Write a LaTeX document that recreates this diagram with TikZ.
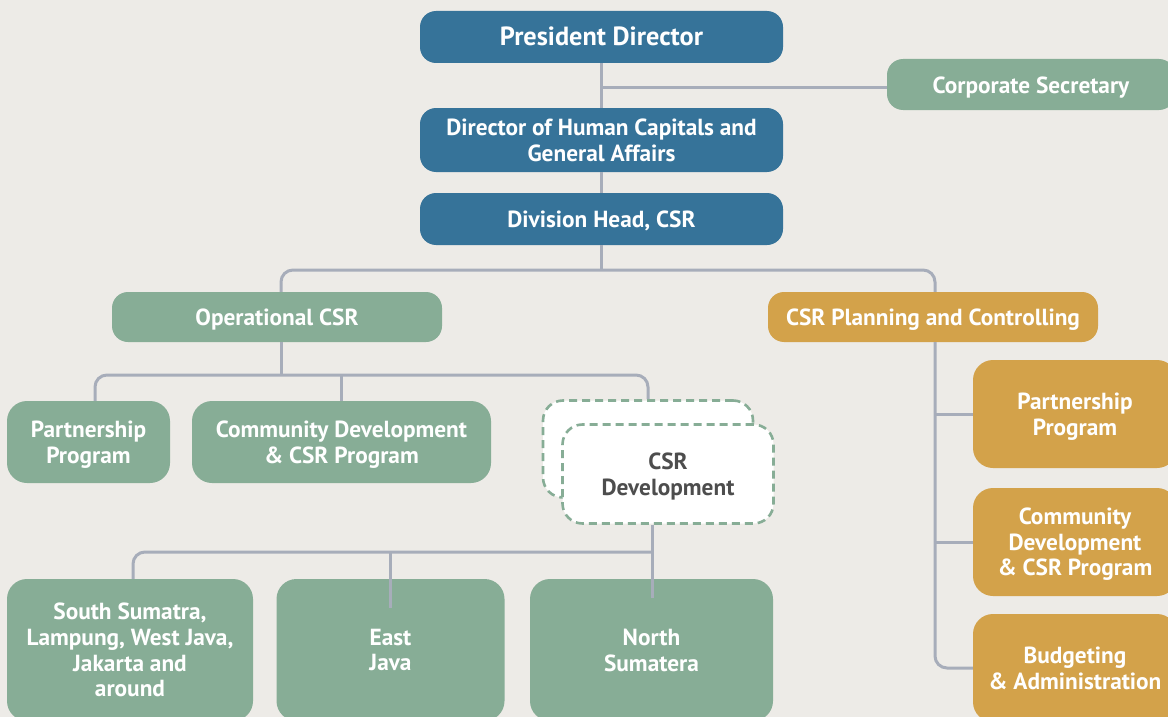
\documentclass[tikz,border=0pt]{standalone}
\usepackage{fontspec}
\setmainfont{PT Sans}
\definecolor{bg}{HTML}{EDEBE7}
\definecolor{cblue}{HTML}{367399}
\definecolor{cgreen}{HTML}{87AD96}
\definecolor{cgold}{HTML}{D3A24A}
\definecolor{cline}{HTML}{A7ADBA}
\definecolor{ctext}{HTML}{4D4D4D}
\tikzset{
  box/.style={rectangle, inner sep=0pt, align=center, text=white,
    font=\bfseries\fontsize{23.3}{25.6}\selectfont,
    execute at begin node={\rule{0pt}{22.5pt}},
    execute at end node={\rule[-5pt]{0pt}{5pt}}},
  multi/.style={text depth=-2.5pt},
  bluebox/.style={box, fill=cblue, rounded corners=16pt},
  greenbox/.style={box, fill=cgreen, rounded corners=16pt},
  goldbox/.style={box, fill=cgold, rounded corners=16pt},
  tallgreen/.style={box, multi, fill=cgreen, rounded corners=20pt},
  tallgold/.style={box, multi, fill=cgold, rounded corners=20pt},
  dashbox/.style={box, multi, fill=white, draw=cgreen, line width=2.6pt,
    dash pattern=on 8pt off 5pt, rounded corners=20pt, text=ctext},
  conn/.style={draw=cline, line width=3pt},
}
\begin{document}
\begin{tikzpicture}[x=1pt,y=-1pt]
\useasboundingbox (0,0) rectangle (1168,717);
\fill[bg] (0,0) rectangle (1168,717);
\clip (0,0) rectangle (1168,717);

% top
\node[bluebox, minimum width=363pt, minimum height=52pt,
  font=\bfseries\fontsize{26.3}{28}\selectfont] (pres) at (601.5,37) {President Director};
\node[greenbox, minimum width=288pt, minimum height=51pt] (sec) at (1031,84.5) {Corporate Secretary};
\node[bluebox, multi, minimum width=363pt, minimum height=64pt] (dhc) at (601.5,140) {Director of Human Capitals and\\General Affairs};
\node[bluebox, minimum width=363pt, minimum height=52pt] (div) at (601.5,219) {Division Head, CSR};

% second level
\node[greenbox, minimum width=330pt, minimum height=50pt] (ops) at (277,317) {Operational CSR};
\node[goldbox, minimum width=330pt, minimum height=50pt] (plan) at (933,317) {CSR Planning and Controlling};

% operational children
\node[tallgreen, minimum width=163pt, minimum height=82pt] (pp1) at (88.5,442) {Partnership\\Program};
\node[tallgreen, minimum width=299pt, minimum height=82pt] (cd1) at (341.5,442) {Community Development\\\& CSR Program};
\node[dashbox, minimum width=210pt, minimum height=97pt] (csrb) at (648,449) {};
\node[dashbox, minimum width=211pt, minimum height=99pt] (csrf) at (668,474) {CSR\\Development};

% regions
\node[tallgreen, minimum width=246pt, minimum height=142pt] (ss) at (130,650) {South Sumatra,\\Lampung, West Java,\\Jakarta and\\around};
\node[tallgreen, minimum width=228pt, minimum height=142pt] (ej) at (390.5,650) {East\\Java};
\node[tallgreen, minimum width=243pt, minimum height=142pt] (ns) at (651.5,650) {North\\Sumatera};

% planning children
\node[tallgold, minimum width=204pt, minimum height=108pt] (rp) at (1075,414) {Partnership\\Program};
\node[tallgold, minimum width=204pt, minimum height=108pt] (rc) at (1075,542) {Community\\Development\\\& CSR Program};
\node[tallgold, minimum width=204pt, minimum height=108pt] (rb) at (1075,668) {Budgeting\\\& Administration};

% connectors
\draw[conn] (pres.south) -- (dhc.north);
\coordinate (j0) at (601.5,88);
\draw[conn] (j0) -- (j0 -| sec.west);
\draw[conn] (dhc.south) -- (div.north);
\coordinate (j1) at (601.5,270);
\draw[conn] (div.south) -- (j1);
\draw[conn, rounded corners=12pt] ([xshift=4pt]ops.north) |- (j1) -| ([xshift=2pt]plan.north);
\coordinate (j2) at (281,375);
\draw[conn] ([xshift=4pt]ops.south) -- (j2);
\draw[conn, rounded corners=12pt] ([xshift=6.5pt]pp1.north) |- (j2) -| (csrb.north);
\draw[conn] (j2 -| cd1.north) -- (cd1.north);
\coordinate (j3) at (935,342);
\draw[conn, rounded corners=12pt] (j3) |- (rb.west);
\draw[conn] (j3 |- rp.west) -- (rp.west);
\draw[conn] (j3 |- rc.west) -- (rc.west);
\coordinate (j4) at (652,552);
\draw[conn] ([xshift=-16pt]csrf.south) -- ([xshift=0.5pt,yshift=-19pt]ns.north);
\draw[conn, rounded corners=12pt] ([xshift=3pt]ss.north) |- (j4);
\draw[conn] (j4 -| ej.north) -- ([yshift=-29pt]ej.north);
\end{tikzpicture}
\end{document}
